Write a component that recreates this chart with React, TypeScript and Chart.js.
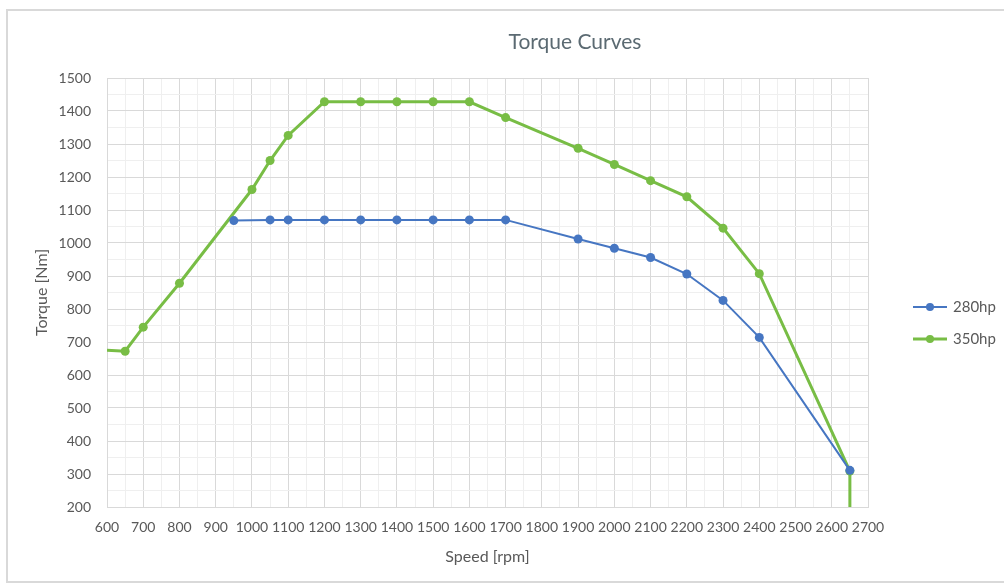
import React, { useEffect, useRef } from "react";
import { Chart, registerables } from "chart.js";

Chart.register(...registerables);

const speeds280 = [950, 1050, 1100, 1200, 1300, 1400, 1500, 1600, 1700, 1900, 2000, 2100, 2200, 2300, 2400, 2650];
const torque280 = [1068, 1070, 1070, 1070, 1070, 1070, 1070, 1070, 1070, 1012, 984, 956, 906, 826, 714, 311];

const speeds350 = [600, 650, 700, 800, 1000, 1050, 1100, 1200, 1300, 1400, 1500, 1600, 1700, 1900, 2000, 2100, 2200, 2300, 2400, 2650, 2650];
const torque350 = [675, 672, 745, 878, 1162, 1250, 1326, 1428, 1428, 1428, 1428, 1428, 1380, 1287, 1238, 1189, 1140, 1045, 907, 309, 200];
const hiddenMarkers350 = [true, false, false, false, false, false, false, false, false, false, false, false, false, false, false, false, false, false, false, false, true];

const seriesLabels = ["280hp", "350hp"];
const seriesColors = ["#4676c2", "#78bd45"];
const chartTitle = "Torque Curves";
const xTitle = "Speed [rpm]";
const yTitle = "Torque [Nm]";
const xMin = 600, xMax = 2700, yMin = 200, yMax = 1500;

const FONT = "Lato, 'Open Sans', sans-serif";
const TEXT = "#595959";

const overlayPlugin = {
  id: "overlay",
  beforeDraw(chart: any) {
    const ctx = chart.ctx;
    ctx.save();
    ctx.fillStyle = "#ffffff";
    ctx.fillRect(0, 0, chart.width, chart.height);
    ctx.strokeStyle = "#d9d9d9";
    ctx.lineWidth = 2;
    ctx.strokeRect(7, 10, chart.width + 10, chart.height - 14);
    ctx.restore();
  },
  afterDraw(chart: any) {
    const ctx = chart.ctx;
    const area = chart.chartArea;
    ctx.save();
    // title
    ctx.font = `21px ${FONT}`;
    ctx.fillStyle = "#5b6a72";
    ctx.textAlign = "center";
    ctx.textBaseline = "middle";
    ctx.fillText(chartTitle, area.right - 293, 42);
    // legend
    ctx.font = `15px ${FONT}`;
    ctx.textAlign = "left";
    chart.data.datasets.forEach((ds: any, i: number) => {
      const y = 307 + i * 32;
      const x0 = area.right + 45;
      ctx.strokeStyle = ds.borderColor;
      ctx.lineWidth = ds.borderWidth;
      ctx.beginPath();
      ctx.moveTo(x0, y);
      ctx.lineTo(x0 + 34, y);
      ctx.stroke();
      ctx.fillStyle = ds.borderColor;
      ctx.beginPath();
      ctx.arc(x0 + 17, y, 4, 0, Math.PI * 2);
      ctx.fill();
      ctx.fillStyle = TEXT;
      ctx.fillText(ds.label, x0 + 40, y);
    });
    ctx.restore();
  },
};

export default function App() {
  const ref = useRef<HTMLCanvasElement>(null);
  useEffect(() => {
    if (!ref.current) return;
    const gridColor = (c: any) => {
      const v = c.tick ? c.tick.value : 0;
      return v % 100 === 0 ? "#d9d9d9" : "#efefef";
    };
    const chart = new Chart(ref.current, {
      type: "line",
      data: {
        datasets: [
          {
            label: seriesLabels[0],
            data: speeds280.map((x, i) => ({ x, y: torque280[i] })),
            borderColor: seriesColors[0],
            backgroundColor: seriesColors[0],
            borderWidth: 2,
            pointRadius: 4.5,
            pointBorderWidth: 0,
            tension: 0,
          },
          {
            label: seriesLabels[1],
            data: speeds350.map((x, i) => ({ x, y: torque350[i] })),
            borderColor: seriesColors[1],
            backgroundColor: seriesColors[1],
            borderWidth: 3,
            pointRadius: hiddenMarkers350.map((h) => (h ? 0 : 4.5)),
            pointBorderWidth: 0,
            tension: 0,
          },
        ],
      },
      options: {
        animation: false,
        responsive: false,
        maintainAspectRatio: false,
        layout: { padding: { left: 0, right: 136, top: 78, bottom: 0 } },
        plugins: {
          legend: { display: false },
          title: { display: false },
          tooltip: { enabled: false },
        },
        scales: {
          x: {
            type: "linear",
            min: xMin,
            max: xMax,
            afterFit: (s: any) => { s.height = 79; },
            ticks: {
              stepSize: 50,
              autoSkip: false,
              maxRotation: 0,
              padding: 12,
              color: TEXT,
              font: { family: FONT, size: 14 },
              callback: (v: any) => (Number(v) % 100 === 0 ? String(v) : ""),
            },
            grid: { color: gridColor, drawTicks: false, lineWidth: 1 },
            border: { color: "#d9d9d9" },
            title: {
              display: true,
              text: xTitle,
              color: TEXT,
              font: { family: FONT, size: 16 },
              padding: { top: 0, bottom: 20 },
            },
          },
          y: {
            type: "linear",
            min: yMin,
            max: yMax,
            afterFit: (s: any) => { s.width = 107; },
            ticks: {
              stepSize: 50,
              autoSkip: false,
              padding: 16,
              color: TEXT,
              font: { family: FONT, size: 14 },
              callback: (v: any) => (Number(v) % 100 === 0 ? String(v) : ""),
            },
            grid: { color: gridColor, drawTicks: false, lineWidth: 1 },
            border: { color: "#d9d9d9" },
            title: {
              display: true,
              text: yTitle,
              color: TEXT,
              font: { family: FONT, size: 16 },
              padding: { top: 32, bottom: 0 },
            },
          },
        },
      },
      plugins: [overlayPlugin],
    } as any);
    return () => chart.destroy();
  }, []);
  return (
    <div style={{ position: "fixed", left: 0, top: 0, width: 1004, height: 586 }}>
      <canvas ref={ref} width={1004} height={586} style={{ display: "block" }} />
    </div>
  );
}
